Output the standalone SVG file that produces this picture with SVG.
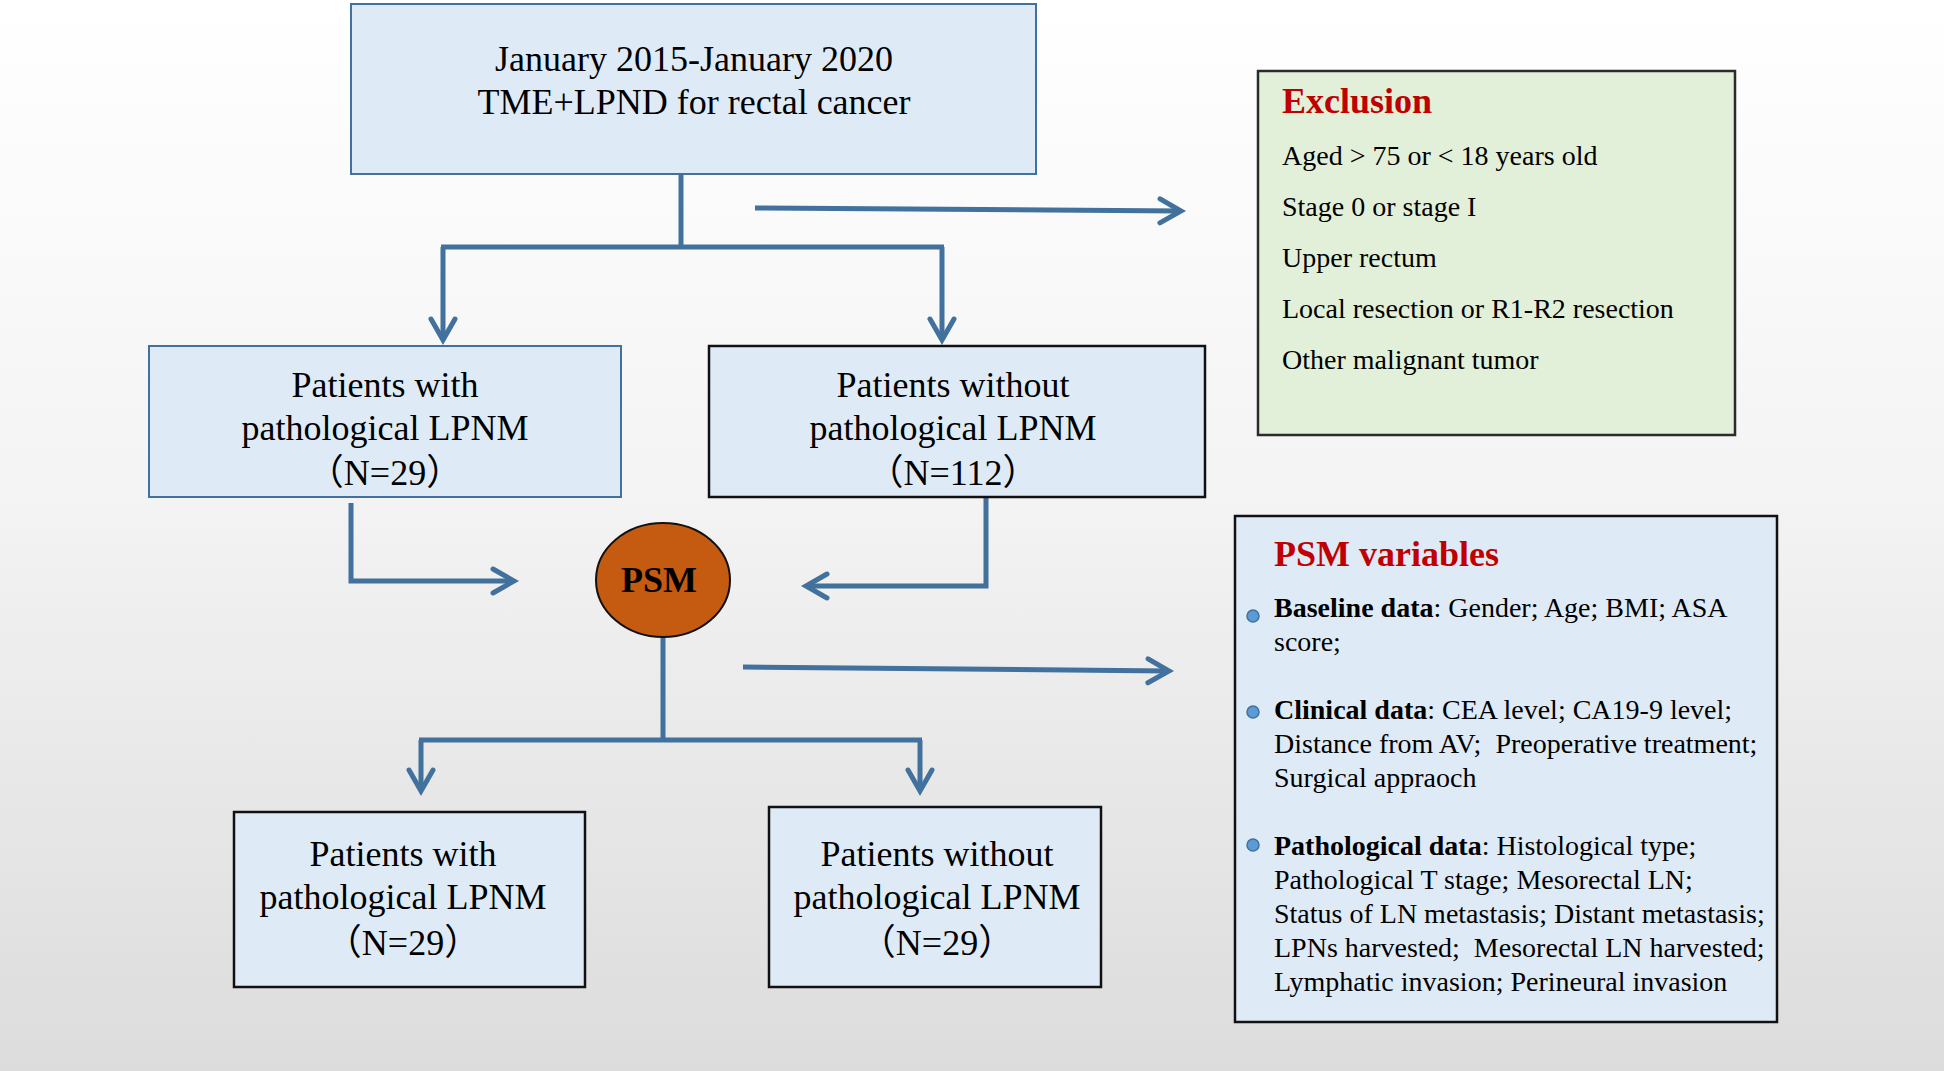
<svg xmlns="http://www.w3.org/2000/svg" width="1944" height="1071" viewBox="0 0 1944 1071">
<defs>
<linearGradient id="bg" x1="0" y1="0" x2="0" y2="1">
<stop offset="0" stop-color="#FFFFFF"/>
<stop offset="0.45" stop-color="#F4F4F4"/>
<stop offset="1" stop-color="#DCDCDC"/>
</linearGradient>
<marker id="arr" markerUnits="userSpaceOnUse" orient="auto" overflow="visible" refX="0" refY="0" markerWidth="1" markerHeight="1">
<path d="M-21,-12 L0,0 L-21,12" fill="none" stroke="#41719C" stroke-width="5" stroke-linecap="round" stroke-linejoin="miter"/>
</marker>
<style>
.t{font-family:"Liberation Serif","Times New Roman","Noto Sans CJK SC",serif;fill:#000;}
.c{text-anchor:middle;font-size:36px;}
.s{font-size:28px;}
.red{fill:#C00000;font-weight:bold;font-size:36px;}
.b{font-weight:bold;}
.blue{fill:#DEEBF7;}
.ln{fill:none;stroke:#41719C;stroke-width:5;}
.ar{marker-end:url(#arr);}
</style>
</defs>
<rect x="0" y="0" width="1944" height="1071" fill="url(#bg)"/>

<g id="connectors">
<path class="ln" d="M681,174 V247"/>
<path class="ln" d="M441,247 H944"/>
<path class="ln ar" d="M443,247 V340"/>
<path class="ln ar" d="M942,247 V340"/>
<path class="ln ar" d="M755,208 L1181,211"/>
<path class="ln ar" d="M351,503 V581 H514"/>
<path class="ln ar" d="M986,498 V586 H806"/>
<path class="ln" d="M663,637 V740"/>
<path class="ln" d="M419,740 H922"/>
<path class="ln ar" d="M421,740 V791"/>
<path class="ln ar" d="M920,740 V791"/>
<path class="ln ar" d="M743,667 L1169,671"/>
</g>

<g id="start">
<rect class="blue" x="351" y="4" width="685" height="170" stroke="#41719C" stroke-width="2"/>
<text class="t c" x="694" y="71">January 2015-January 2020</text>
<text class="t c" x="694" y="114">TME+LPND for rectal cancer</text>
</g>

<g id="exclusion">
<rect x="1258" y="71" width="477" height="364" fill="#E2F0D9" stroke="#2B2B2B" stroke-width="2.5"/>
<text class="t red" x="1282" y="113">Exclusion</text>
<text class="t s" x="1282" y="165">Aged &gt; 75 or &lt; 18 years old</text>
<text class="t s" x="1282" y="216">Stage 0 or stage I</text>
<text class="t s" x="1282" y="267">Upper rectum</text>
<text class="t s" x="1282" y="318">Local resection or R1-R2 resection</text>
<text class="t s" x="1282" y="369">Other malignant tumor</text>
</g>

<g id="with-lpnm">
<rect class="blue" x="149" y="346" width="472" height="151" stroke="#41719C" stroke-width="2"/>
<text class="t c" x="385" y="397">Patients with</text>
<text class="t c" x="385" y="440">pathological LPNM</text>
<text class="t c" x="385" y="485">（N=29）</text>
</g>

<g id="without-lpnm">
<rect class="blue" x="709" y="346" width="496" height="151" stroke="#111" stroke-width="2.5"/>
<text class="t c" x="953" y="397">Patients without</text>
<text class="t c" x="953" y="440">pathological LPNM</text>
<text class="t c" x="953" y="485">（N=112）</text>
</g>

<g id="psm">
<ellipse cx="663" cy="580" rx="67" ry="57" fill="#C55A11" stroke="#111" stroke-width="2"/>
<text class="t b" x="659" y="592" text-anchor="middle" font-size="36">PSM</text>
</g>

<g id="psm-variables">
<rect class="blue" x="1235" y="516" width="542" height="506" stroke="#111" stroke-width="2.5"/>
<text class="t red" x="1274" y="566">PSM variables</text>
<circle cx="1253" cy="616" r="6" fill="#5B9BD5" stroke="#41719C" stroke-width="1.5"/>
<circle cx="1253" cy="712" r="6" fill="#5B9BD5" stroke="#41719C" stroke-width="1.5"/>
<circle cx="1253" cy="845" r="6" fill="#5B9BD5" stroke="#41719C" stroke-width="1.5"/>
<text class="t s" x="1274" y="617"><tspan class="b">Baseline data</tspan>: Gender; Age; BMI; ASA</text>
<text class="t s" x="1274" y="651">score;</text>
<text class="t s" x="1274" y="719"><tspan class="b">Clinical data</tspan>: CEA level; CA19-9 level;</text>
<text class="t s" x="1274" y="753" xml:space="preserve">Distance from AV;  Preoperative treatment;</text>
<text class="t s" x="1274" y="787">Surgical appraoch</text>
<text class="t s" x="1274" y="855"><tspan class="b">Pathological data</tspan>: Histological type;</text>
<text class="t s" x="1274" y="889">Pathological T stage; Mesorectal LN;</text>
<text class="t s" x="1274" y="923">Status of LN metastasis; Distant metastasis;</text>
<text class="t s" x="1274" y="957" xml:space="preserve">LPNs harvested;  Mesorectal LN harvested;</text>
<text class="t s" x="1274" y="991">Lymphatic invasion; Perineural invasion</text>
</g>

<g id="matched-with">
<rect class="blue" x="234" y="812" width="351" height="175" stroke="#111" stroke-width="2.5"/>
<text class="t c" x="403" y="866">Patients with</text>
<text class="t c" x="403" y="909">pathological LPNM</text>
<text class="t c" x="403" y="955">（N=29）</text>
</g>

<g id="matched-without">
<rect class="blue" x="769" y="807" width="332" height="180" stroke="#111" stroke-width="2.5"/>
<text class="t c" x="937" y="866">Patients without</text>
<text class="t c" x="937" y="909">pathological LPNM</text>
<text class="t c" x="937" y="955">（N=29）</text>
</g>
</svg>
